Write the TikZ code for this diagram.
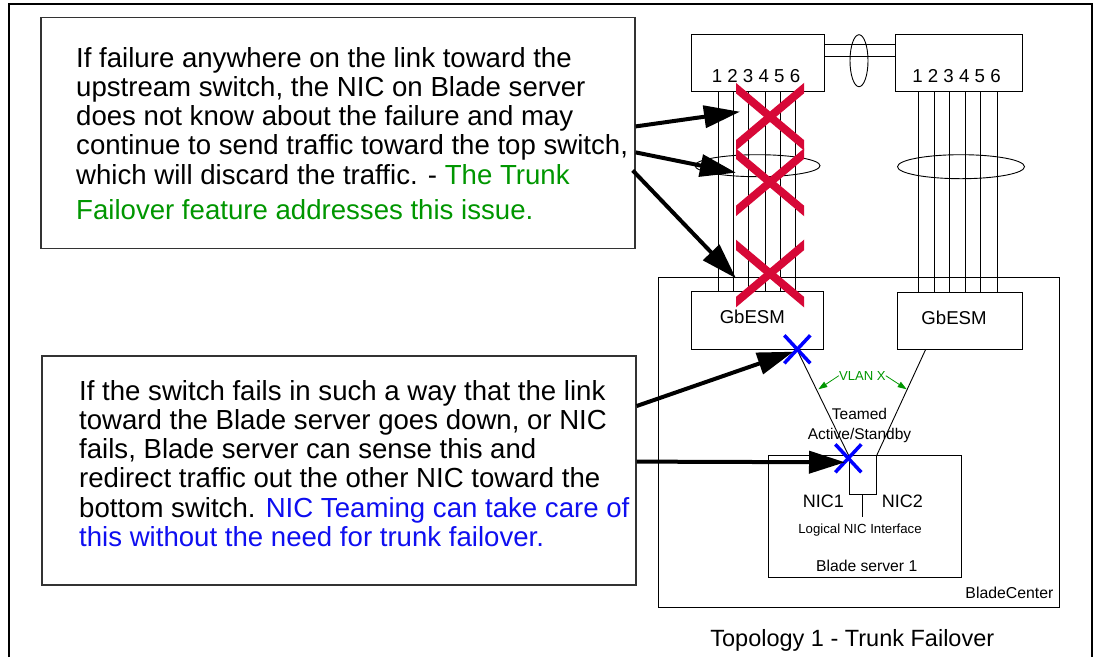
\documentclass[tikz,border=0pt]{standalone}
\usepackage{fontspec}
\setmainfont{Liberation Sans}
\usetikzlibrary{arrows.meta,calc,shapes.geometric}
\definecolor{xred}{RGB}{215,8,55}
\definecolor{tgreen}{RGB}{0,150,0}
\definecolor{tblue}{RGB}{15,15,240}
\begin{document}
\begin{tikzpicture}[x=1pt,y=-1pt,
  frame/.style={line width=1.5pt},
  tbox/.style={draw=black!80, line width=1.4pt, inner sep=0pt},
  rbox/.style={draw=black, line width=1pt, inner sep=0pt},
  maintxt/.style={font=\fontsize{27.6}{29.2}\selectfont, align=left, inner sep=0pt},
  lbl/.style={inner sep=0pt},
  link/.style={line width=0.9pt},
  bigarrow/.style={line width=4pt, -{Triangle[length=36pt,width=22pt]}},
  vlanarrow/.style={draw=tgreen, line width=0.8pt, -{Triangle[length=9pt,width=6pt]}},
  redx/.style={draw=xred, line width=8pt},
  bluex/.style={draw=blue, line width=3.5pt},
  oval/.style={draw, line width=0.9pt, ellipse, inner sep=0pt}
]
\useasboundingbox (0,0) rectangle (1094,657);
% outer frame
\draw[frame] (9,657) -- (9,4) -- (1092,4) -- (1092,657);

% text boxes
\node[tbox, minimum width=594pt, minimum height=231pt] (tb1) at (338,133.2) {};
\node[tbox, minimum width=594pt, minimum height=229pt] (tb2) at (339,470.5) {};
\node[maintxt, anchor=north west] (t1) at (76,47) {If failure anywhere on the link toward the\\
upstream switch, the NIC on Blade server\\
does not know about the failure and may\\
continue to send traffic toward the top switch,\\
which will discard the traffic. - \textcolor{tgreen}{The Trunk}\\[6pt]
\textcolor{tgreen}{Failover feature addresses this issue.}};
\node[maintxt, anchor=north west] (t2) at (79,380) {If the switch fails in such a way that the link\\
toward the Blade server goes down, or NIC\\
fails, Blade server can sense this and\\
redirect traffic out the other NIC toward the\\
bottom switch. \textcolor{tblue}{NIC Teaming can take care of}\\
\textcolor{tblue}{this without the need for trunk failover.}};

% upstream switches
\node[rbox, minimum width=132.3pt, minimum height=57.4pt] (sw1) at (757.85,63) {};
\node[rbox, minimum width=126.3pt, minimum height=57.4pt] (sw2) at (958.85,63) {};
\node[lbl, font=\fontsize{18.7}{20}\selectfont] (d1) at (756,76) {1 2 3 4 5 6};
\node[lbl, font=\fontsize{18.7}{20}\selectfont] (d2) at (956.5,76) {1 2 3 4 5 6};
% inter-switch links
\draw[link] ([yshift=-10.7pt]sw1.north east) -- ([yshift=-10.7pt]sw1.north east -| sw2.west);
\draw[link] ([yshift=-22.7pt]sw1.north east) -- ([yshift=-22.7pt]sw1.north east -| sw2.west);
\node[oval, minimum width=18pt, minimum height=52pt] (e0) at (859,60.7) {};

% BladeCenter
\node[rbox, minimum width=401pt, minimum height=330pt] (bc) at (858.5,442.3) {};
\node[lbl, font=\fontsize{15.8}{17}\selectfont, anchor=east] (bcl) at (1053.5,593.3) {BladeCenter};
\node[rbox, minimum width=132pt, minimum height=57.3pt] (gb1) at (757.7,320.35) {};
\node[rbox, minimum width=125pt, minimum height=57.3pt] (gb2) at (959.5,320.65) {};
\node[lbl, font=\fontsize{18.6}{20}\selectfont] (gb1l) at (752.3,317) {GbESM};
\node[lbl, font=\fontsize{18.6}{20}\selectfont] (gb2l) at (954,317.5) {GbESM};

% trunk lines
\foreach \dx in {27.3,42.6,57.6,74.3,89,104.6}
  \draw[link] ([xshift=\dx pt]sw1.south west) -- ([xshift=\dx pt]sw1.south west |- gb1.north);
\foreach \dx in {23.6,39.3,54.3,70.3,85.3,102}
  \draw[link] ([xshift=\dx pt]sw2.south west) -- ([xshift=\dx pt]sw2.south west |- gb2.north);
\node[oval, minimum width=125pt, minimum height=22pt] (e1) at (757.5,165.7) {};
\node[oval, minimum width=127pt, minimum height=24pt] (e2) at (961,166.7) {};

% blade server
\node[rbox, minimum width=193pt, minimum height=121.6pt] (bs) at (864.5,516.5) {};
\node[rbox, minimum width=27.3pt, minimum height=38.3pt] (nic) at (862.65,474.85) {};
\coordinate (lg) at (862.65,516.7);
\draw[link] (nic.south) -- (lg);
\coordinate (g1b) at (796.7,349);
\coordinate (g2b) at (925.7,349.3);
\draw[link] (g1b) -- (nic.north west);
\draw[link] (g2b) -- (nic.north east);
\node[lbl, font=\fontsize{18}{20}\selectfont] (n1) at (823.3,501.7) {NIC1};
\node[lbl, font=\fontsize{18}{20}\selectfont] (n2) at (902.3,501.7) {NIC2};
\node[lbl, font=\fontsize{13.2}{15}\selectfont] (lni) at (860,530) {Logical NIC Interface};
\node[lbl, font=\fontsize{15.7}{17}\selectfont] (bsl) at (866.7,565.7) {Blade server 1};
\node[lbl, font=\fontsize{15.5}{20}\selectfont, align=center] (team) at (859.5,425.7) {Teamed\\Active/Standby};
\node[lbl, font=\fontsize{13.1}{15}\selectfont, text=tgreen] (vlan) at (862.3,375.7) {VLAN X};
\coordinate (va1) at (818.3,389.3);
\coordinate (va2) at (906.7,389.3);
\draw[vlanarrow] (vlan.west) -- (va1);
\draw[vlanarrow] (vlan.east) -- (va2);

% red crosses
\begin{scope}
\clip (736,0) rectangle (804,657);
\foreach \cy in {116.7,182.3,273.5}{
  \draw[redx] (726,\cy-37) -- (814,\cy+37);
  \draw[redx] (726,\cy+37) -- (814,\cy-37);
}
\end{scope}

% blue crosses
\coordinate (bx1) at (797.3,349.3);
\coordinate (bx2) at (848.3,458.3);
\foreach \c in {bx1,bx2}{
  \draw[bluex] ([shift={(-13pt,14pt)}]\c) -- ([shift={(13pt,-14pt)}]\c);
  \draw[bluex] ([shift={(-13pt,-14pt)}]\c) -- ([shift={(13pt,14pt)}]\c);
}

% arrows
\coordinate (a1) at (740,111.7);
\coordinate (a2) at (736,172.7);
\coordinate (a3) at (736,278.3);
\coordinate (a4) at (793.3,351.7);
\coordinate (a5) at (845,462.3);
\draw[bigarrow] ([yshift=-109.4pt]tb1.north east) -- (a1);
\draw[bigarrow] ([yshift=-135.4pt]tb1.north east) -- (a2);
\draw[bigarrow] ([shift={(-3pt,-153.4pt)}]tb1.north east) -- (a3);
\draw[bigarrow] ([yshift=-50.7pt]tb2.north east) -- (a4);
\draw[bigarrow] ([yshift=-106.3pt]tb2.north east) -- (a5);

% caption
\node[lbl, font=\fontsize{23.5}{25}\selectfont] (cap) at (852.3,640) {Topology 1 - Trunk Failover};
\end{tikzpicture}
\end{document}
